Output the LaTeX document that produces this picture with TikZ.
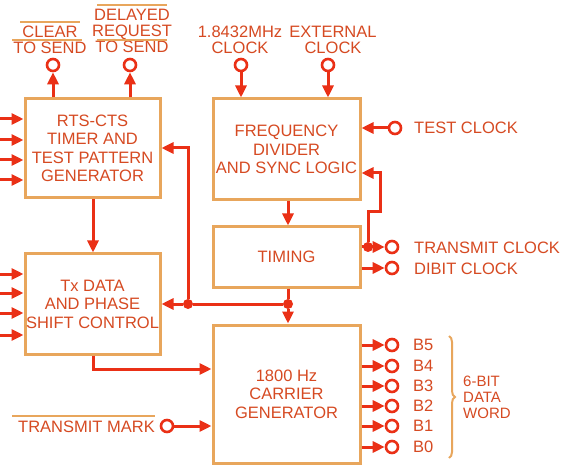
\documentclass[tikz,border=0pt]{standalone}
\usepackage{fontspec}
\setmainfont{Liberation Sans}
\usetikzlibrary{arrows.meta,decorations.pathreplacing}
\definecolor{boxc}{RGB}{232,166,92}
\definecolor{arrc}{RGB}{234,48,22}
\definecolor{txtc}{RGB}{214,74,34}
\begin{document}
\begin{tikzpicture}[x=1pt,y=-1pt,
  blk/.style={draw=boxc, line width=3pt, inner sep=0pt, text=txtc, align=center,
     font=\fontsize{16.5}{18.5}\selectfont},
  sig/.style={draw=arrc, line width=3pt, -{Triangle[length=12pt,width=11pt]}},
  wire/.style={draw=arrc, line width=3pt},
  term/.style={circle, draw=arrc, line width=2.6pt, fill=white, minimum size=12pt, inner sep=0pt},
  jdot/.style={circle, fill=arrc, minimum size=10pt, inner sep=0pt},
  lbl/.style={text=txtc, font=\fontsize{16.5}{16}\selectfont, align=center, inner sep=1pt},
  bar/.style={draw=boxc, line width=2pt}]
\useasboundingbox[fill=white] (0,0) rectangle (573,473);

% blocks
\node[blk, minimum width=135pt, minimum height=99pt] (rts) at (92.5,148.5)
  {RTS-CTS\\TIMER AND\\TEST PATTERN\\GENERATOR};
\node[blk, minimum width=147pt, minimum height=101pt] (freq) at (286.5,149.5)
  {FREQUENCY\\DIVIDER\\AND SYNC LOGIC};
\node[blk, minimum width=147pt, minimum height=60pt] (timing) at (286.5,257) {TIMING};
\node[blk, minimum width=135pt, minimum height=100pt] (txd) at (92.5,304)
  {Tx DATA\\AND PHASE\\SHIFT CONTROL};
\node[blk, minimum width=147pt, minimum height=138pt] (car) at (286.5,394)
  {1800 Hz\\CARRIER\\GENERATOR};

% top terminals
\node[term] (cts) at (53,65) {};
\node[term] (drts) at (130,65) {};
\node[term] (c18) at (241,65) {};
\node[term] (ext) at (328,65) {};
\node[lbl] (ctsl) at (50,40) {CLEAR\\TO SEND};
\node[lbl] (drtsl) at (132,31) {DELAYED\\REQUEST\\TO SEND};
\node[lbl] (c18l) at (240,40) {1.8432MHz\\CLOCK};
\node[lbl] (extl) at (333,40) {EXTERNAL\\CLOCK};
\draw[bar] (20,22) -- (80,22);
\draw[bar] (12,40) -- (82,40);
\draw[bar] (97,5) -- (167,5);
\draw[bar] (97,40) -- (167,40);

\draw[sig] (rts.north -| cts) -- (cts);
\draw[sig] (rts.north -| drts) -- (drts);
\draw[sig] (c18) -- (c18 |- freq.north);
\draw[sig] (ext) -- (ext |- freq.north);

% left inputs
\foreach \n/\y in {a/119,b/140,c/160,d/180}{
  \coordinate (ri\n) at (0,\y);
  \draw[sig] (ri\n) -- (ri\n -| rts.west);
}
\foreach \n/\y in {a/274,b/293,c/313,d/335}{
  \coordinate (ti\n) at (0,\y);
  \draw[sig] (ti\n) -- (ti\n -| txd.west);
}

% right side clocks
\node[term] (tclk) at (395,128) {};
\node[lbl, anchor=west] (tclkl) at (413,128) {TEST CLOCK};
\draw[sig] (tclk) -- (tclk -| freq.east);

\node[term] (xclk) at (392,247) {};
\node[lbl, anchor=west] (xclkl) at (413,248) {TRANSMIT CLOCK};
\node[term] (dclk) at (392,268) {};
\node[lbl, anchor=west] (dclkl) at (413,269) {DIBIT CLOCK};
\draw[sig] (xclk -| timing.east) -- (xclk);
\draw[sig] (dclk -| timing.east) -- (dclk);
\node[jdot] (xj) at (368,247) {};
\coordinate (lp1) at (368,212);
\coordinate (lp2) at (380,212);
\coordinate (lp3) at (380,173);
\draw[sig] (xj) -- (lp1) -- (lp2) -- (lp3) -- (lp3 -| freq.east);

% internal connections
\draw[sig] (freq.south -| 288,0) -- (timing.north -| 288,0);
\node[jdot] (tj) at (288,304) {};
\draw[wire] (timing.south -| tj) -- (tj);
\draw[sig] (tj) -- (tj |- car.north);
\node[jdot] (fj) at (188,304) {};
\draw[wire] (tj) -- (fj);
\draw[sig] (fj) -- (fj -| txd.east);
\coordinate (fb) at (188,148);
\draw[sig] (fj) -- (fb) -- (fb -| rts.east);
\draw[sig] (rts.south -| 93,0) -- (txd.north -| 93,0);
\coordinate (tx1) at (93,369);
\draw[sig] (txd.south -| tx1) -- (tx1) -- (tx1 -| car.west);

% transmit mark
\node[term] (tm) at (167,426) {};
\node[lbl, anchor=east] (tml) at (156,427) {TRANSMIT MARK};
\draw[bar] (12,416) -- (155,416);
\draw[sig] (tm) -- (tm -| car.west);

% data outputs
\foreach \b/\y in {5/345,4/366,3/386,2/406,1/426,0/447}{
  \node[term] (b\b) at (392,\y) {};
  \node[lbl, anchor=west] (b\b l) at (412,\y) {B\b};
  \draw[sig] (b\b -| car.east) -- (b\b);
}
\draw[bar, decorate, decoration={brace, amplitude=6pt}] (449,336) -- (449,458);
\node[lbl, align=left, anchor=west, font=\fontsize{15}{16}\selectfont] (dw) at (462,397) {6-BIT\\DATA\\WORD};
\end{tikzpicture}
\end{document}
